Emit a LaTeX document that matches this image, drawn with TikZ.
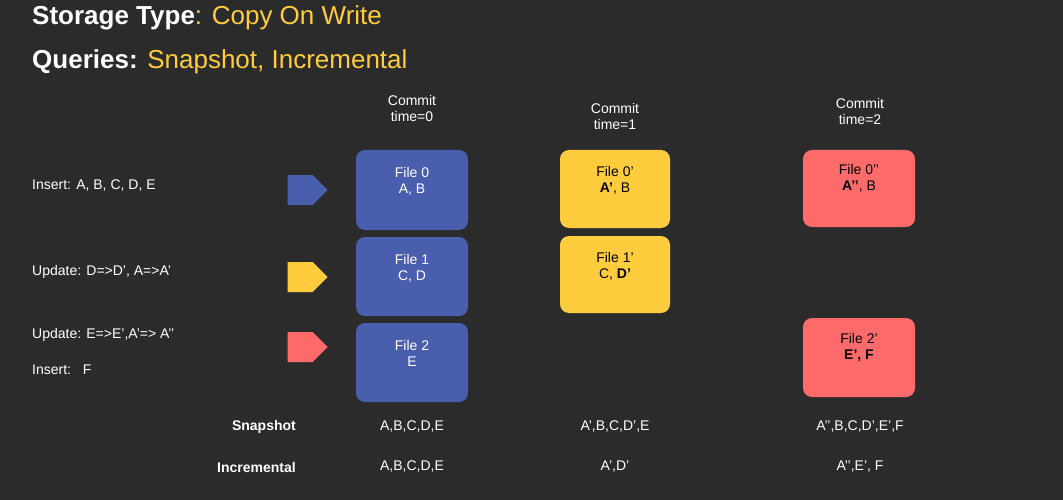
\documentclass[tikz,border=0pt]{standalone}
\usepackage{fontspec}
\setmainfont{Liberation Sans}
\usetikzlibrary{shapes.arrows}
\definecolor{bg}{HTML}{2B2B2B}
\definecolor{cblue}{HTML}{4A5EAE}
\definecolor{cyel}{HTML}{FFCC3E}
\definecolor{cred}{HTML}{FF6B6B}
\begin{document}
\begin{tikzpicture}[x=1pt,y=-1pt,
  txt/.style={text=white,font=\fontsize{14}{16}\selectfont,inner sep=0},
  ctr/.style={txt,align=center},
  box/.style={rounded corners=9pt,draw=none},
  btxt/.style={font=\fontsize{14}{16}\selectfont,align=center,inner sep=0,anchor=north},
  arr/.style={single arrow,draw=none,minimum width=30pt,single arrow head extend=0pt,minimum height=40pt,inner sep=0,single arrow tip angle=90}]
\fill[bg] (0,0) rectangle (1063,500);
\useasboundingbox (0,0) rectangle (1063,500);
\node[anchor=west,inner sep=0,font=\fontsize{26}{30}\selectfont] (t1) at (32,18) {\textcolor{white}{\textbf{Storage Type}}\textcolor{cyel}{: Copy On Write}};
\node[anchor=west,inner sep=0,font=\fontsize{26}{30}\selectfont] (t2) at (32,62) {\textcolor{white}{\textbf{Queries:}} \textcolor{cyel}{Snapshot, Incremental}};
% commit labels
\node[ctr] (c0) at (412,108) {Commit\\time=0};
\node[ctr] (c1) at (615,116) {Commit\\time=1};
\node[ctr] (c2) at (860,111) {Commit\\time=2};
% boxes
\fill[box,cblue] (356,150) rectangle (468,230);
\fill[box,cblue] (356,237) rectangle (468,316);
\fill[box,cblue] (356,323) rectangle (468,402);
\fill[box,cyel] (560,150) rectangle (670,228);
\fill[box,cyel] (560,236) rectangle (670,313);
\fill[box,cred] (803,150) rectangle (915,227);
\fill[box,cred] (803,318) rectangle (915,397);
\node[btxt,text=white] (f0) at (412,167) {File 0\\A, B};
\node[btxt,text=white] (f1) at (412,254) {File 1\\C, D};
\node[btxt,text=white] (f2) at (412,340) {File 2\\E};
\node[btxt] (g0) at (615,166) {File 0’\\\textbf{A’}, B};
\node[btxt] (g1) at (615,252) {File 1’\\C, \textbf{D’}};
\node[btxt] (h0) at (859,164) {File 0’’\\\textbf{A’’}, B};
\node[btxt] (h2) at (859,333) {File 2’\\\textbf{E’, F}};
% arrows
\node[arr,fill=cblue] (a0) at (300,190) {};
\node[arr,fill=cyel] (a1) at (300,277) {};
\node[arr,fill=cred] (a2) at (300,347) {};
% left labels
\node[txt,anchor=west] (l0) at (32,186) {Insert: A, B, C, D, E};
\node[txt,anchor=west] (l1) at (32,272) {Update: D=>D’, A=>A’};
\node[txt,anchor=west] (l2) at (32,335) {Update: E=>E’,A’=> A’’};
\node[txt,anchor=west] (l3) at (32,370) {Insert:\ \ \ F};
% bottom
\node[txt,anchor=east,font=\bfseries\fontsize{14}{16}\selectfont] (s) at (296,427) {Snapshot};
\node[txt,anchor=east,font=\bfseries\fontsize{14}{16}\selectfont] (i) at (296,467) {Incremental};
\node[txt] (s0) at (412,427) {A,B,C,D,E};
\node[txt] (s1) at (615,427) {A’,B,C,D’,E};
\node[txt] (s2) at (860,427) {A’’,B,C,D’,E’,F};
\node[txt] (i0) at (412,467) {A,B,C,D,E};
\node[txt] (i1) at (615,467) {A’,D’};
\node[txt] (i2) at (860,467) {A’’,E’, F};
\end{tikzpicture}
\end{document}
